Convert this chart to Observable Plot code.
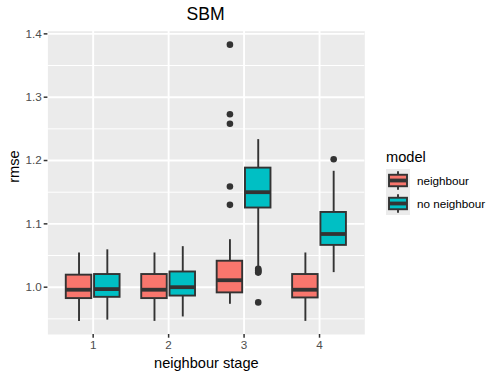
<!DOCTYPE html>
<html>
<head>
<meta charset="utf-8">
<script src="https://cdn.jsdelivr.net/npm/d3@7"></script>
<script src="https://cdn.jsdelivr.net/npm/@observablehq/plot@0.6"></script>
<style>
  html, body { margin: 0; padding: 0; background: #fff; }
  #wrap { position: relative; width: 500px; height: 377px; font-family: "Liberation Sans", Arial, sans-serif; }
  #wrap svg.plot { position: absolute; left: 0; top: 0; }
  .title { position: absolute; left: 0; width: 411px; top: 4px; text-align: center; font-size: 17.6px; color: #000; }
  #legend { position: absolute; left: 386px; top: 149px; }
  #legend .lt { font-size: 14.6px; color: #000; height: 20px; }
  #legend .row { display: flex; align-items: center; height: 23px; }
  #legend .row span { font-size: 11.7px; color: #000; margin-left: 7px; }
</style>
</head>
<body>
<div id="wrap">
  <div class="title">SBM</div>
  <div id="legend"></div>
</div>
<script>
// ---- data ----
const stages = [1, 2, 3, 4];
const models = ["neighbour", "no neighbour"];
const colors = ["#F8766D", "#00BFC4"];
const yTicks = [1.0, 1.1, 1.2, 1.3, 1.4];
const yMinor = [0.95, 1.05, 1.15, 1.25, 1.35];

const neighbourLower  = [0.946, 0.946, 0.973, 0.946];
const neighbourQ1     = [0.982, 0.982, 0.991, 0.983];
const neighbourMedian = [0.996, 0.996, 1.011, 0.996];
const neighbourQ3     = [1.019, 1.020, 1.041, 1.020];
const neighbourUpper  = [1.054, 1.054, 1.075, 1.054];
const neighbourOutliers = [[], [], [1.383, 1.273, 1.258, 1.159, 1.130], []];

const noNeighbourLower  = [0.948, 0.953, 1.031, 1.023];
const noNeighbourQ1     = [0.984, 0.986, 1.125, 1.066];
const noNeighbourMedian = [0.997, 1.000, 1.150, 1.084];
const noNeighbourQ3     = [1.020, 1.024, 1.188, 1.118];
const noNeighbourUpper  = [1.059, 1.064, 1.233, 1.183];
const noNeighbourOutliers = [[], [], [1.029, 1.027, 1.026, 1.024, 1.023, 0.976], [1.202]];

// ---- build table ----
const series = [
  {model: models[0], lower: neighbourLower, q1: neighbourQ1, med: neighbourMedian, q3: neighbourQ3, upper: neighbourUpper, out: neighbourOutliers},
  {model: models[1], lower: noNeighbourLower, q1: noNeighbourQ1, med: noNeighbourMedian, q3: noNeighbourQ3, upper: noNeighbourUpper, out: noNeighbourOutliers}
];
const dodge = 0.1875, half = 0.169;
const boxes = [], outliers = [];
series.forEach((s, si) => {
  stages.forEach((st, i) => {
    const cx = st + (si === 0 ? -dodge : dodge);
    boxes.push({model: s.model, cx, x1: cx - half, x2: cx + half,
      lower: s.lower[i], q1: s.q1[i], med: s.med[i], q3: s.q3[i], upper: s.upper[i]});
    s.out[i].forEach(v => outliers.push({model: s.model, cx, v}));
  });
});

const ink = "#333333";
const chart = Plot.plot({
  width: 500, height: 377,
  marginLeft: 47.4, marginRight: 135.7, marginTop: 30.7, marginBottom: 43,
  style: {fontFamily: "Liberation Sans, Arial, sans-serif", background: "transparent"},
  x: {type: "linear", domain: [0.4, 4.6]},
  y: {domain: [0.9253, 1.4042]},
  color: {domain: models, range: colors},
  marks: [
    Plot.frame({fill: "#EBEBEB", stroke: null}),
    Plot.ruleY(yMinor, {stroke: "white", strokeWidth: 1}),
    Plot.ruleY(yTicks, {stroke: "white", strokeWidth: 1.9}),
    Plot.ruleX(stages, {stroke: "white", strokeWidth: 1.9}),
    Plot.ruleX(boxes, {x: "cx", y1: "lower", y2: "upper", stroke: ink, strokeWidth: 1.9}),
    Plot.rect(boxes, {x1: "x1", x2: "x2", y1: "q1", y2: "q3", fill: "model", stroke: ink, strokeWidth: 1.9}),
    Plot.ruleY(boxes, {x1: "x1", x2: "x2", y: "med", stroke: ink, strokeWidth: 3.8}),
    Plot.dot(outliers, {x: "cx", y: "v", r: 3.3, fill: ink, stroke: null}),
    Plot.axisX(stages, {tickSize: 3.7, tickPadding: 2.5, stroke: ink, strokeWidth: 1.5, fill: "#4D4D4D", fontSize: 11.7, tickFormat: d => String(d), label: null}),
    Plot.axisY(yTicks, {tickSize: 3.7, tickPadding: 2.5, stroke: ink, strokeWidth: 1.5, fill: "#4D4D4D", fontSize: 11.7, tickFormat: d => d.toFixed(1), label: null}),
    Plot.text(["neighbour stage"], {frameAnchor: "bottom", dy: 33, fontSize: 14.6, fill: "black"}),
    Plot.text(["rmse"], {frameAnchor: "left", dx: -34, rotate: -90, fontSize: 14.6, fill: "black"})
  ]
});
chart.classList.add("plot");
document.getElementById("wrap").prepend(chart);

// ---- legend ----
const leg = document.getElementById("legend");
const lt = document.createElement("div");
lt.className = "lt"; lt.textContent = "model";
leg.appendChild(lt);
models.forEach((m, i) => {
  const row = document.createElement("div");
  row.className = "row";
  const key = d3.create("svg").attr("width", 24).attr("height", 23);
  key.append("rect").attr("width", 24).attr("height", 23).attr("fill", "#EBEBEB");
  key.append("line").attr("x1", 12).attr("x2", 12).attr("y1", 2.3).attr("y2", 20.7).attr("stroke", ink).attr("stroke-width", 1.9);
  key.append("rect").attr("x", 3).attr("y", 5.75).attr("width", 18).attr("height", 11.5).attr("fill", colors[i]).attr("stroke", ink).attr("stroke-width", 1.9);
  key.append("line").attr("x1", 3).attr("x2", 21).attr("y1", 11.5).attr("y2", 11.5).attr("stroke", ink).attr("stroke-width", 3.8);
  row.appendChild(key.node());
  const sp = document.createElement("span");
  sp.textContent = m;
  row.appendChild(sp);
  leg.appendChild(row);
});
</script>
</body>
</html>
